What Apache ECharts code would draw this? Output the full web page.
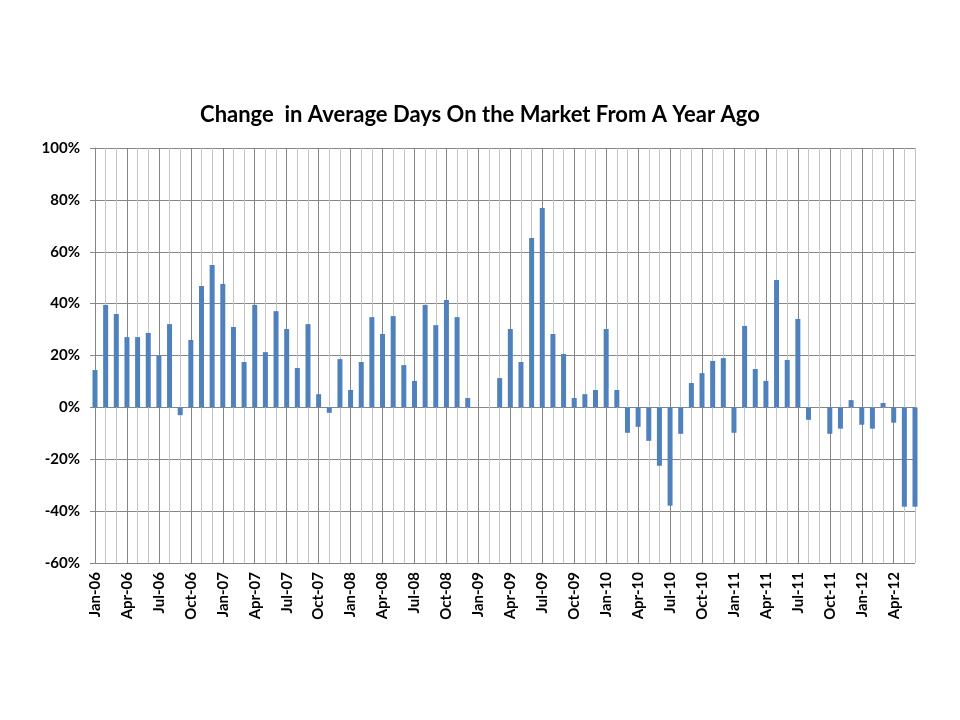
<!DOCTYPE html>
<html>
<head>
<meta charset="utf-8">
<script src="https://cdn.jsdelivr.net/npm/echarts@6/dist/echarts.min.js"></script>
<style>
html,body{margin:0;padding:0;background:#fff;}
#chart{width:960px;height:720px;}
</style>
</head>
<body>
<div id="chart"></div>
<script>
var categories = [
 'Jan-06','Feb-06','Mar-06','Apr-06','May-06','Jun-06','Jul-06','Aug-06','Sep-06','Oct-06','Nov-06','Dec-06',
 'Jan-07','Feb-07','Mar-07','Apr-07','May-07','Jun-07','Jul-07','Aug-07','Sep-07','Oct-07','Nov-07','Dec-07',
 'Jan-08','Feb-08','Mar-08','Apr-08','May-08','Jun-08','Jul-08','Aug-08','Sep-08','Oct-08','Nov-08','Dec-08',
 'Jan-09','Feb-09','Mar-09','Apr-09','May-09','Jun-09','Jul-09','Aug-09','Sep-09','Oct-09','Nov-09','Dec-09',
 'Jan-10','Feb-10','Mar-10','Apr-10','May-10','Jun-10','Jul-10','Aug-10','Sep-10','Oct-10','Nov-10','Dec-10',
 'Jan-11','Feb-11','Mar-11','Apr-11','May-11','Jun-11','Jul-11','Aug-11','Sep-11','Oct-11','Nov-11','Dec-11',
 'Jan-12','Feb-12','Mar-12','Apr-12','May-12','Jun-12'
];
var changePct = [
 14.4, 39.5, 36.0, 27.1, 27.1, 28.7, 20.0, 32.1, -3.0, 26.0, 46.8, 54.9,
 47.6, 31.0, 17.5, 39.5, 21.3, 37.1, 30.2, 15.2, 32.1, 5.1, -2.1, 18.6,
 6.7, 17.5, 34.8, 28.3, 35.2, 16.3, 10.2, 39.5, 31.7, 41.4, 34.8, 3.6,
 null, null, 11.3, 30.2, 17.5, 65.3, 76.9, 28.3, 20.6, 3.6, 5.1, 6.7,
 30.2, 6.7, -9.8, -7.5, -12.9, -22.5, -37.9, -10.2, 9.4, 13.2, 17.9, 19.0,
 -9.8, 31.4, 14.8, 10.2, 49.1, 18.3, 34.1, -4.8, null, -10.2, -8.2, 2.8,
 -6.7, -8.2, 1.7, -5.9, -38.3, -38.3
];
var titleText = 'Change  in Average Days On the Market From A Year Ago';

var chart = echarts.init(document.getElementById('chart'), null, {renderer: 'canvas'});
var font = 'Lato, "Open Sans", sans-serif';
chart.setOption({
  animation: false,
  backgroundColor: '#ffffff',
  title: {
    text: titleText,
    left: 'center',
    top: 99,
    textStyle: {fontFamily: font, fontSize: 22, fontWeight: 'bold', color: '#000'}
  },
  grid: {left: 95, right: 45, top: 148, bottom: 157, containLabel: false},
  xAxis: [{
    type: 'category',
    data: categories,
    boundaryGap: false,
    axisLine: {show: false},
    axisTick: {show: false},
    axisLabel: {
      interval: 2, rotate: 90, margin: 9,
      fontFamily: font, fontSize: 15, fontWeight: 'bold', color: '#000'
    },
    splitLine: {show: true, interval: 0, lineStyle: {color: '#c4c4c4', width: 1}}
  }, {
    type: 'category',
    data: categories,
    boundaryGap: false,
    position: 'bottom',
    axisLine: {show: false},
    axisTick: {show: false},
    axisLabel: {show: false},
    splitLine: {show: true, interval: 2, lineStyle: {color: '#868686', width: 1}}
  }],
  yAxis: {
    type: 'value',
    min: -60, max: 100, interval: 20,
    axisLine: {show: true, lineStyle: {color: '#868686'}},
    axisTick: {show: true, length: 5, lineStyle: {color: '#868686'}},
    axisLabel: {
      formatter: '{value}%', margin: 15,
      fontFamily: font, fontSize: 15, fontWeight: 'bold', color: '#000'
    },
    splitLine: {show: true, lineStyle: {color: '#868686', width: 1}}
  },
  series: [{
    type: 'bar',
    xAxisIndex: 0,
    data: changePct,
    barWidth: 5,
    clip: true,
    itemStyle: {color: '#4F81BD'}
  }]
});
</script>
</body>
</html>
